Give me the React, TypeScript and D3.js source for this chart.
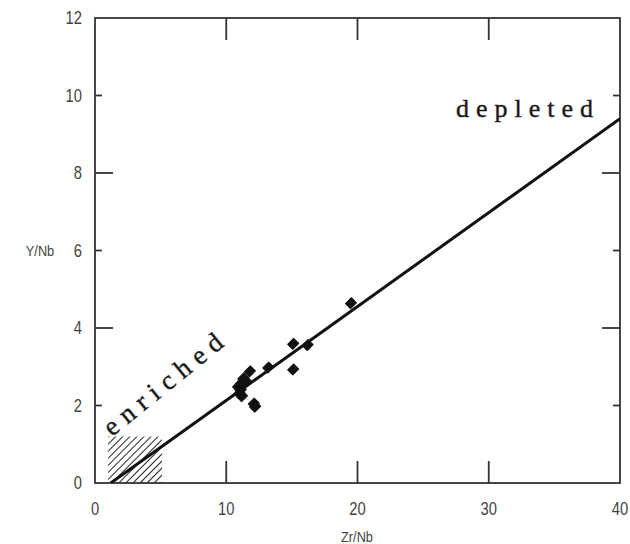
import React, { useRef, useEffect } from 'react';
import * as d3 from 'd3';

// Zr/Nb vs Y/Nb samples
const zrNb = [11.0, 11.1, 10.9, 11.1, 11.3, 11.5, 11.2, 11.8, 13.2, 12.1, 12.2, 15.1, 16.2, 15.1, 19.5];
const yNb = [2.32, 2.4, 2.49, 2.57, 2.7, 2.62, 2.24, 2.88, 2.98, 2.05, 1.97, 3.59, 3.56, 2.93, 4.64];

// reference line ends
const lineX = [1.2, 40];
const lineY = [0, 9.4];

// hatched box corners
const boxX = [1, 5.1];
const boxY = [0, 1.2];

const xTicks = [0, 10, 20, 30, 40];
const yTicks = [0, 2, 4, 6, 8, 10, 12];

const App = () => {
    const ref = useRef(null);

    useEffect(() => {
        const svg = d3.select(ref.current);
        svg.selectAll("*").remove();

        const left = 95, right = 620, top = 18, bottom = 483;
        const xScale = d3.scaleLinear().domain([0, 40]).range([left, right]);
        const yScale = d3.scaleLinear().domain([0, 12]).range([bottom, top]);
        const axisColor = "#333";

        const defs = svg.append("defs");
        const pat = defs.append("pattern")
            .attr("id", "hatch")
            .attr("patternUnits", "userSpaceOnUse")
            .attr("width", 5)
            .attr("height", 5)
            .attr("patternTransform", "rotate(45)");
        pat.append("line")
            .attr("x1", 0).attr("y1", 0)
            .attr("x2", 0).attr("y2", 5)
            .attr("stroke", "#222")
            .attr("stroke-width", 2);

        defs.append("clipPath").attr("id", "plotclip")
            .append("rect")
            .attr("x", left).attr("y", top)
            .attr("width", right - left).attr("height", bottom - top);

        svg.append("rect")
            .attr("x", xScale(boxX[0]))
            .attr("y", yScale(boxY[1]))
            .attr("width", xScale(boxX[1]) - xScale(boxX[0]))
            .attr("height", yScale(boxY[0]) - yScale(boxY[1]))
            .attr("fill", "url(#hatch)");

        // frame
        svg.append("rect")
            .attr("x", left).attr("y", top)
            .attr("width", right - left).attr("height", bottom - top)
            .attr("fill", "none")
            .attr("stroke", axisColor)
            .attr("stroke-width", 1.8);

        // ticks, inward, on all four sides
        xTicks.slice(1, -1).forEach(t => {
            svg.append("line")
                .attr("x1", xScale(t)).attr("x2", xScale(t))
                .attr("y1", bottom).attr("y2", bottom - 22)
                .attr("stroke", axisColor).attr("stroke-width", 1.8);
            svg.append("line")
                .attr("x1", xScale(t)).attr("x2", xScale(t))
                .attr("y1", top).attr("y2", top + 22)
                .attr("stroke", axisColor).attr("stroke-width", 1.8);
        });
        yTicks.slice(1, -1).forEach(t => {
            const len = t % 4 === 0 ? 18 : 7;
            svg.append("line")
                .attr("x1", left).attr("x2", left + len)
                .attr("y1", yScale(t)).attr("y2", yScale(t))
                .attr("stroke", axisColor).attr("stroke-width", 1.8);
            svg.append("line")
                .attr("x1", right).attr("x2", right - len)
                .attr("y1", yScale(t)).attr("y2", yScale(t))
                .attr("stroke", axisColor).attr("stroke-width", 1.8);
        });

        // narrow-looking sans labels (squeezed horizontally)
        const labelFont = "'Liberation Sans', Arial, sans-serif";
        svg.selectAll("text.xt")
            .data(xTicks)
            .enter()
            .append("text")
            .attr("class", "xt")
            .attr("transform", d => `translate(${xScale(d)},515) scale(0.82,1)`)
            .attr("text-anchor", "middle")
            .style("font-family", labelFont)
            .style("font-size", "18px")
            .style("fill", "#444")
            .text(d => d);

        svg.selectAll("text.yt")
            .data(yTicks)
            .enter()
            .append("text")
            .attr("class", "yt")
            .attr("transform", d => `translate(82,${yScale(d) + 6}) scale(0.82,1)`)
            .attr("text-anchor", "end")
            .style("font-family", labelFont)
            .style("font-size", "18px")
            .style("fill", "#444")
            .text(d => d);

        svg.append("text")
            .attr("transform", "translate(357,542) scale(0.85,1)")
            .attr("text-anchor", "middle")
            .style("font-family", labelFont)
            .style("font-size", "15px")
            .style("fill", "#444")
            .text("Zr/Nb");

        svg.append("text")
            .attr("transform", "translate(40,256) scale(0.85,1)")
            .attr("text-anchor", "middle")
            .style("font-family", labelFont)
            .style("font-size", "15px")
            .style("fill", "#444")
            .text("Y/Nb");

        // reference line
        svg.append("path")
            .datum(lineX.map((x, i) => ({ x, y: lineY[i] })))
            .attr("clip-path", "url(#plotclip)")
            .attr("fill", "none")
            .attr("stroke", "#111")
            .attr("stroke-width", 3)
            .attr("d", d3.line().x(d => xScale(d.x)).y(d => yScale(d.y)));

        // samples
        const diamond = d3.symbol().type(d3.symbolSquare).size(52);
        svg.selectAll("path.pt")
            .data(zrNb.map((x, i) => ({ x, y: yNb[i] })))
            .enter()
            .append("path")
            .attr("class", "pt")
            .attr("transform", d => `translate(${xScale(d.x)},${yScale(d.y)}) rotate(45) scale(1,1.15)`)
            .attr("d", diamond)
            .attr("fill", "#111")
            .attr("stroke", "#111")
            .attr("stroke-width", 1)
            .attr("stroke-linejoin", "round");

        const serif = "'Liberation Serif', 'Times New Roman', serif";
        svg.append("text")
            .attr("transform", "translate(112,437) rotate(-39)")
            .style("font-family", serif)
            .style("font-size", "27px")
            .style("letter-spacing", "7.5px")
            .style("fill", "#1a1a1a")
            .style("stroke", "#1a1a1a")
            .style("stroke-width", 0.4)
            .text("enriched");

        svg.append("text")
            .attr("x", 456)
            .attr("y", 117)
            .style("font-family", serif)
            .style("font-size", "26px")
            .style("letter-spacing", "7px")
            .style("fill", "#1a1a1a")
            .style("stroke", "#1a1a1a")
            .style("stroke-width", 0.4)
            .text("depleted");
    }, []);

    return (
        <svg
            ref={ref}
            width={630}
            height={544}
            style={{ position: 'absolute', left: 0, top: 0, background: '#fff' }}
        />
    );
};

export default App;
